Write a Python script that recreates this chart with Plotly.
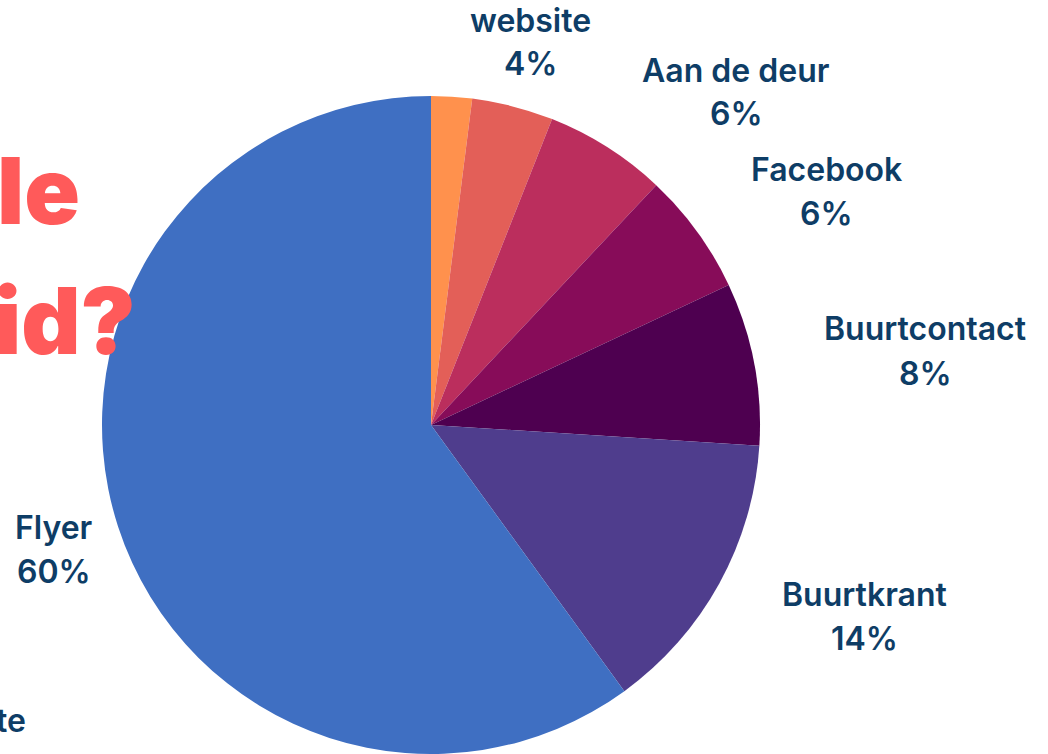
import plotly.graph_objects as go

# Data
categories = ["Anders", "website", "Aan de deur", "Facebook", "Buurtcontact", "Buurtkrant", "Flyer"]
values = [2, 4, 6, 6, 8, 14, 60]
colors = ["#FF914D", "#E35F58", "#BB2E5D", "#870C59", "#4E0050", "#4F3D8D", "#3F6FC2"]

# label anchor positions in screen pixels (layout only)
label_pos = {
    "website": (530, 20),
    "Aan de deur": (736, 70),
    "Facebook": (826, 170),
    "Buurtcontact": (925, 329),
    "Buurtkrant": (864, 594),
    "Flyer": (54, 527),
}

W, H = 1048, 754
cx, cy, R = 431, 425, 329


def px2paper(x, y):
    return x / W, 1 - y / H


fig = go.Figure()
fig.add_trace(go.Pie(
    labels=categories,
    values=values,
    sort=False,
    direction="clockwise",
    rotation=0,
    marker=dict(colors=colors, line=dict(width=0)),
    textinfo="none",
    hoverinfo="label+percent",
    domain=dict(x=[(cx - R) / W, (cx + R) / W], y=[(H - cy - R) / H, (H - cy + R) / H]),
    showlegend=False,
))

label_color = "#0E3D66"
lab_font = dict(family="Inter, Rubik, sans-serif", size=32, color=label_color, weight=600)
annotations = []
for cat, val in zip(categories, values):
    if cat not in label_pos:
        continue
    px, py = label_pos[cat]
    x1, y1 = px2paper(px, py)
    x2, y2 = px2paper(px, py + 44)
    annotations.append(dict(x=x1, y=y1, xref="paper", yref="paper", text=cat,
                            showarrow=False, xanchor="center", yanchor="middle", font=lab_font))
    annotations.append(dict(x=x2, y=y2, xref="paper", yref="paper", text=f"{val}%",
                            showarrow=False, xanchor="center", yanchor="middle", font=lab_font))

# clipped partial label at bottom-left
tx, ty = px2paper(28, 720)
annotations.append(dict(x=tx, y=ty, xref="paper", yref="paper", text="te",
                        showarrow=False, xanchor="right", yanchor="middle", font=lab_font))

# clipped red title fragments
title_font = dict(family="Inter, sans-serif", size=92, color="#FF5A5A", weight=900)
ax, ay = px2paper(82, 190)
annotations.append(dict(x=ax, y=ay, xref="paper", yref="paper", text="le",
                        showarrow=False, xanchor="right", yanchor="middle", font=title_font))
bx, by = px2paper(138, 320)
annotations.append(dict(x=bx, y=by, xref="paper", yref="paper", text="id?",
                        showarrow=False, xanchor="right", yanchor="middle", font=title_font))

fig.update_layout(
    width=W, height=H,
    margin=dict(l=0, r=0, t=0, b=0),
    paper_bgcolor="white", plot_bgcolor="white",
    annotations=annotations,
)

fig.write_html("out.html", config={"displayModeBar": False},
               post_script="document.body.style.margin='0';")
